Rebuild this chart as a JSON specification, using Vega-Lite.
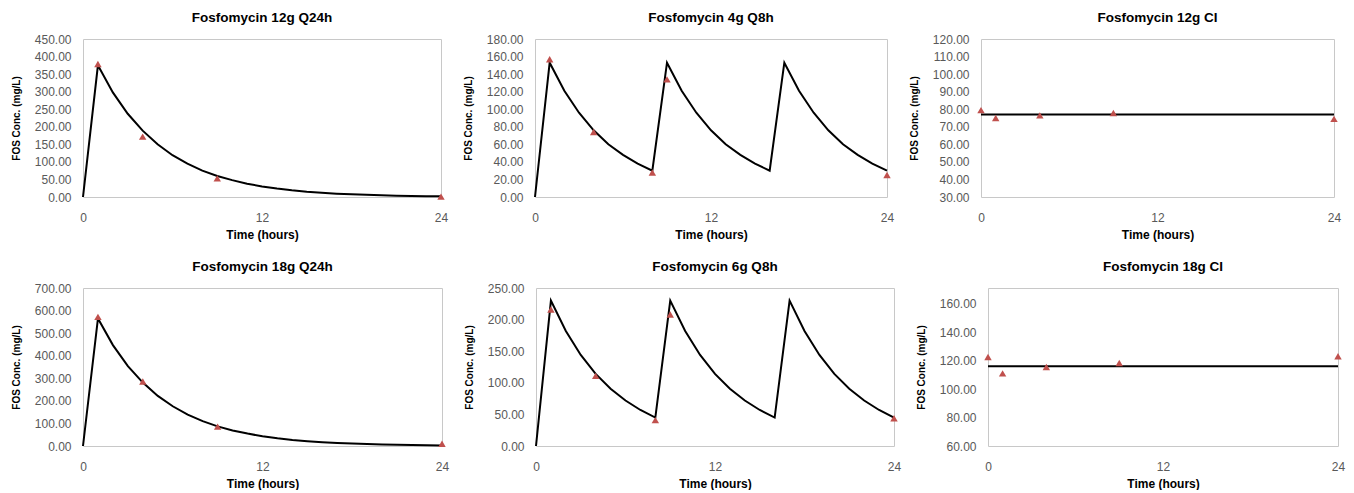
{
  "$schema": "https://vega.github.io/schema/vega-lite/v6.json",
  "padding": {"left": 10, "top": 10, "right": 0, "bottom": 0},
  "background": "white",
  "data": {"values": [
    {"panel": "p1", "type": "model", "t": 0, "conc": 0},
    {"panel": "p1", "type": "model", "t": 1, "conc": 375},
    {"panel": "p1", "type": "model", "t": 2, "conc": 298},
    {"panel": "p1", "type": "model", "t": 3, "conc": 237},
    {"panel": "p1", "type": "model", "t": 4, "conc": 189},
    {"panel": "p1", "type": "model", "t": 5, "conc": 150},
    {"panel": "p1", "type": "model", "t": 6, "conc": 119},
    {"panel": "p1", "type": "model", "t": 7, "conc": 95},
    {"panel": "p1", "type": "model", "t": 8, "conc": 75},
    {"panel": "p1", "type": "model", "t": 9, "conc": 60},
    {"panel": "p1", "type": "model", "t": 10, "conc": 48},
    {"panel": "p1", "type": "model", "t": 11, "conc": 38},
    {"panel": "p1", "type": "model", "t": 12, "conc": 30},
    {"panel": "p1", "type": "model", "t": 13, "conc": 24},
    {"panel": "p1", "type": "model", "t": 14, "conc": 19},
    {"panel": "p1", "type": "model", "t": 15, "conc": 15},
    {"panel": "p1", "type": "model", "t": 16, "conc": 12},
    {"panel": "p1", "type": "model", "t": 17, "conc": 9.6},
    {"panel": "p1", "type": "model", "t": 18, "conc": 7.6},
    {"panel": "p1", "type": "model", "t": 19, "conc": 6.1},
    {"panel": "p1", "type": "model", "t": 20, "conc": 4.8},
    {"panel": "p1", "type": "model", "t": 21, "conc": 3.8},
    {"panel": "p1", "type": "model", "t": 22, "conc": 3.1},
    {"panel": "p1", "type": "model", "t": 23, "conc": 2.4},
    {"panel": "p1", "type": "model", "t": 24, "conc": 1.9},
    {"panel": "p1", "type": "obs", "t": 1, "conc": 379},
    {"panel": "p1", "type": "obs", "t": 4, "conc": 172},
    {"panel": "p1", "type": "obs", "t": 9, "conc": 53},
    {"panel": "p1", "type": "obs", "t": 24, "conc": 1},

    {"panel": "p2", "type": "model", "t": 0, "conc": 0},
    {"panel": "p2", "type": "model", "t": 1, "conc": 153},
    {"panel": "p2", "type": "model", "t": 2, "conc": 121},
    {"panel": "p2", "type": "model", "t": 3, "conc": 96},
    {"panel": "p2", "type": "model", "t": 4, "conc": 76},
    {"panel": "p2", "type": "model", "t": 5, "conc": 60},
    {"panel": "p2", "type": "model", "t": 6, "conc": 48},
    {"panel": "p2", "type": "model", "t": 7, "conc": 38},
    {"panel": "p2", "type": "model", "t": 8, "conc": 30},
    {"panel": "p2", "type": "model", "t": 9, "conc": 153},
    {"panel": "p2", "type": "model", "t": 10, "conc": 121},
    {"panel": "p2", "type": "model", "t": 11, "conc": 96},
    {"panel": "p2", "type": "model", "t": 12, "conc": 76},
    {"panel": "p2", "type": "model", "t": 13, "conc": 60},
    {"panel": "p2", "type": "model", "t": 14, "conc": 48},
    {"panel": "p2", "type": "model", "t": 15, "conc": 38},
    {"panel": "p2", "type": "model", "t": 16, "conc": 30},
    {"panel": "p2", "type": "model", "t": 17, "conc": 153},
    {"panel": "p2", "type": "model", "t": 18, "conc": 121},
    {"panel": "p2", "type": "model", "t": 19, "conc": 96},
    {"panel": "p2", "type": "model", "t": 20, "conc": 76},
    {"panel": "p2", "type": "model", "t": 21, "conc": 60},
    {"panel": "p2", "type": "model", "t": 22, "conc": 48},
    {"panel": "p2", "type": "model", "t": 23, "conc": 38},
    {"panel": "p2", "type": "model", "t": 24, "conc": 30},
    {"panel": "p2", "type": "obs", "t": 1, "conc": 157},
    {"panel": "p2", "type": "obs", "t": 4, "conc": 74},
    {"panel": "p2", "type": "obs", "t": 8, "conc": 28},
    {"panel": "p2", "type": "obs", "t": 9, "conc": 134},
    {"panel": "p2", "type": "obs", "t": 24, "conc": 25},

    {"panel": "p3", "type": "model", "t": 0, "conc": 77},
    {"panel": "p3", "type": "model", "t": 24, "conc": 77},
    {"panel": "p3", "type": "obs", "t": 0, "conc": 79.5},
    {"panel": "p3", "type": "obs", "t": 1, "conc": 75},
    {"panel": "p3", "type": "obs", "t": 4, "conc": 76.5},
    {"panel": "p3", "type": "obs", "t": 9, "conc": 77.8},
    {"panel": "p3", "type": "obs", "t": 24, "conc": 74.5},

    {"panel": "p4", "type": "model", "t": 0, "conc": 0},
    {"panel": "p4", "type": "model", "t": 1, "conc": 565},
    {"panel": "p4", "type": "model", "t": 2, "conc": 447},
    {"panel": "p4", "type": "model", "t": 3, "conc": 354},
    {"panel": "p4", "type": "model", "t": 4, "conc": 281},
    {"panel": "p4", "type": "model", "t": 5, "conc": 222},
    {"panel": "p4", "type": "model", "t": 6, "conc": 176},
    {"panel": "p4", "type": "model", "t": 7, "conc": 139},
    {"panel": "p4", "type": "model", "t": 8, "conc": 110},
    {"panel": "p4", "type": "model", "t": 9, "conc": 87},
    {"panel": "p4", "type": "model", "t": 10, "conc": 69},
    {"panel": "p4", "type": "model", "t": 11, "conc": 55},
    {"panel": "p4", "type": "model", "t": 12, "conc": 43},
    {"panel": "p4", "type": "model", "t": 13, "conc": 34},
    {"panel": "p4", "type": "model", "t": 14, "conc": 27},
    {"panel": "p4", "type": "model", "t": 15, "conc": 21.5},
    {"panel": "p4", "type": "model", "t": 16, "conc": 17},
    {"panel": "p4", "type": "model", "t": 17, "conc": 13.5},
    {"panel": "p4", "type": "model", "t": 18, "conc": 10.7},
    {"panel": "p4", "type": "model", "t": 19, "conc": 8.5},
    {"panel": "p4", "type": "model", "t": 20, "conc": 6.7},
    {"panel": "p4", "type": "model", "t": 21, "conc": 5.3},
    {"panel": "p4", "type": "model", "t": 22, "conc": 4.2},
    {"panel": "p4", "type": "model", "t": 23, "conc": 3.3},
    {"panel": "p4", "type": "model", "t": 24, "conc": 2.6},
    {"panel": "p4", "type": "obs", "t": 1, "conc": 572},
    {"panel": "p4", "type": "obs", "t": 4, "conc": 286},
    {"panel": "p4", "type": "obs", "t": 9, "conc": 86},
    {"panel": "p4", "type": "obs", "t": 24, "conc": 10},

    {"panel": "p5", "type": "model", "t": 0, "conc": 0},
    {"panel": "p5", "type": "model", "t": 1, "conc": 230},
    {"panel": "p5", "type": "model", "t": 2, "conc": 182},
    {"panel": "p5", "type": "model", "t": 3, "conc": 144},
    {"panel": "p5", "type": "model", "t": 4, "conc": 114},
    {"panel": "p5", "type": "model", "t": 5, "conc": 90.5},
    {"panel": "p5", "type": "model", "t": 6, "conc": 72},
    {"panel": "p5", "type": "model", "t": 7, "conc": 57},
    {"panel": "p5", "type": "model", "t": 8, "conc": 45},
    {"panel": "p5", "type": "model", "t": 9, "conc": 230},
    {"panel": "p5", "type": "model", "t": 10, "conc": 182},
    {"panel": "p5", "type": "model", "t": 11, "conc": 144},
    {"panel": "p5", "type": "model", "t": 12, "conc": 114},
    {"panel": "p5", "type": "model", "t": 13, "conc": 90.5},
    {"panel": "p5", "type": "model", "t": 14, "conc": 72},
    {"panel": "p5", "type": "model", "t": 15, "conc": 57},
    {"panel": "p5", "type": "model", "t": 16, "conc": 45},
    {"panel": "p5", "type": "model", "t": 17, "conc": 230},
    {"panel": "p5", "type": "model", "t": 18, "conc": 182},
    {"panel": "p5", "type": "model", "t": 19, "conc": 144},
    {"panel": "p5", "type": "model", "t": 20, "conc": 114},
    {"panel": "p5", "type": "model", "t": 21, "conc": 90.5},
    {"panel": "p5", "type": "model", "t": 22, "conc": 72},
    {"panel": "p5", "type": "model", "t": 23, "conc": 57},
    {"panel": "p5", "type": "model", "t": 24, "conc": 45},
    {"panel": "p5", "type": "obs", "t": 1, "conc": 216},
    {"panel": "p5", "type": "obs", "t": 4, "conc": 111},
    {"panel": "p5", "type": "obs", "t": 8, "conc": 41},
    {"panel": "p5", "type": "obs", "t": 9, "conc": 208},
    {"panel": "p5", "type": "obs", "t": 24, "conc": 44},

    {"panel": "p6", "type": "model", "t": 0, "conc": 116},
    {"panel": "p6", "type": "model", "t": 24, "conc": 116},
    {"panel": "p6", "type": "obs", "t": 0, "conc": 122.5},
    {"panel": "p6", "type": "obs", "t": 1, "conc": 111},
    {"panel": "p6", "type": "obs", "t": 4, "conc": 115.5},
    {"panel": "p6", "type": "obs", "t": 9, "conc": 118.3},
    {"panel": "p6", "type": "obs", "t": 24, "conc": 123}
  ]},
  "spacing": 18,
  "resolve": {"scale": {"x": "independent", "y": "independent"}},
  "vconcat": [
    {
      "bounds": "flush",
      "spacing": 94,
      "resolve": {"scale": {"x": "independent", "y": "independent"}},
      "hconcat": [
        {
          "width": 358, "height": 158,
          "title": {"text": "Fosfomycin 12g Q24h"},
          "encoding": {
            "x": {"field": "t", "type": "quantitative", "scale": {"domain": [0, 24], "nice": false}, "axis": {"values": [0, 12, 24], "title": "Time (hours)"}},
            "y": {"field": "conc", "type": "quantitative", "scale": {"domain": [0, 450], "nice": false, "zero": false}, "axis": {"values": [0, 50, 100, 150, 200, 250, 300, 350, 400, 450], "format": ".2f", "title": "FOS Conc. (mg/L)"}}
          },
          "layer": [
            {"transform": [{"filter": "datum.panel == 'p1' && datum.type == 'model'"}], "mark": {"type": "line", "color": "#000000", "strokeWidth": 2}},
            {"transform": [{"filter": "datum.panel == 'p1' && datum.type == 'obs'"}], "mark": {"type": "point", "shape": "triangle-up", "filled": true, "color": "#C0504D", "opacity": 1, "size": 55}}
          ]
        },
        {
          "width": 352, "height": 158,
          "title": {"text": "Fosfomycin 4g Q8h"},
          "encoding": {
            "x": {"field": "t", "type": "quantitative", "scale": {"domain": [0, 24], "nice": false}, "axis": {"values": [0, 12, 24], "title": "Time (hours)"}},
            "y": {"field": "conc", "type": "quantitative", "scale": {"domain": [0, 180], "nice": false, "zero": false}, "axis": {"values": [0, 20, 40, 60, 80, 100, 120, 140, 160, 180], "format": ".2f", "title": "FOS Conc. (mg/L)"}}
          },
          "layer": [
            {"transform": [{"filter": "datum.panel == 'p2' && datum.type == 'model'"}], "mark": {"type": "line", "color": "#000000", "strokeWidth": 2}},
            {"transform": [{"filter": "datum.panel == 'p2' && datum.type == 'obs'"}], "mark": {"type": "point", "shape": "triangle-up", "filled": true, "color": "#C0504D", "opacity": 1, "size": 55}}
          ]
        },
        {
          "width": 353, "height": 158,
          "title": {"text": "Fosfomycin 12g CI"},
          "encoding": {
            "x": {"field": "t", "type": "quantitative", "scale": {"domain": [0, 24], "nice": false}, "axis": {"values": [0, 12, 24], "title": "Time (hours)"}},
            "y": {"field": "conc", "type": "quantitative", "scale": {"domain": [30, 120], "nice": false, "zero": false}, "axis": {"values": [30, 40, 50, 60, 70, 80, 90, 100, 110, 120], "format": ".2f", "title": "FOS Conc. (mg/L)"}}
          },
          "layer": [
            {"transform": [{"filter": "datum.panel == 'p3' && datum.type == 'model'"}], "mark": {"type": "line", "color": "#000000", "strokeWidth": 2}},
            {"transform": [{"filter": "datum.panel == 'p3' && datum.type == 'obs'"}], "mark": {"type": "point", "shape": "triangle-up", "filled": true, "color": "#C0504D", "opacity": 1, "size": 55}}
          ]
        }
      ]
    },
    {
      "bounds": "flush",
      "spacing": 94,
      "resolve": {"scale": {"x": "independent", "y": "independent"}},
      "hconcat": [
        {
          "width": 359, "height": 158,
          "title": {"text": "Fosfomycin 18g Q24h"},
          "encoding": {
            "x": {"field": "t", "type": "quantitative", "scale": {"domain": [0, 24], "nice": false}, "axis": {"values": [0, 12, 24], "title": "Time (hours)"}},
            "y": {"field": "conc", "type": "quantitative", "scale": {"domain": [0, 700], "nice": false, "zero": false}, "axis": {"values": [0, 100, 200, 300, 400, 500, 600, 700], "format": ".2f", "title": "FOS Conc. (mg/L)"}}
          },
          "layer": [
            {"transform": [{"filter": "datum.panel == 'p4' && datum.type == 'model'"}], "mark": {"type": "line", "color": "#000000", "strokeWidth": 2}},
            {"transform": [{"filter": "datum.panel == 'p4' && datum.type == 'obs'"}], "mark": {"type": "point", "shape": "triangle-up", "filled": true, "color": "#C0504D", "opacity": 1, "size": 55}}
          ]
        },
        {
          "width": 358, "height": 158,
          "title": {"text": "Fosfomycin 6g Q8h"},
          "encoding": {
            "x": {"field": "t", "type": "quantitative", "scale": {"domain": [0, 24], "nice": false}, "axis": {"values": [0, 12, 24], "title": "Time (hours)"}},
            "y": {"field": "conc", "type": "quantitative", "scale": {"domain": [0, 250], "nice": false, "zero": false}, "axis": {"values": [0, 50, 100, 150, 200, 250], "format": ".2f", "title": "FOS Conc. (mg/L)"}}
          },
          "layer": [
            {"transform": [{"filter": "datum.panel == 'p5' && datum.type == 'model'"}], "mark": {"type": "line", "color": "#000000", "strokeWidth": 2}},
            {"transform": [{"filter": "datum.panel == 'p5' && datum.type == 'obs'"}], "mark": {"type": "point", "shape": "triangle-up", "filled": true, "color": "#C0504D", "opacity": 1, "size": 55}}
          ]
        },
        {
          "width": 350, "height": 158,
          "title": {"text": "Fosfomycin 18g CI", "offset": 15},
          "encoding": {
            "x": {"field": "t", "type": "quantitative", "scale": {"domain": [0, 24], "nice": false}, "axis": {"values": [0, 12, 24], "title": "Time (hours)"}},
            "y": {"field": "conc", "type": "quantitative", "scale": {"domain": [60, 171], "nice": false, "zero": false}, "axis": {"values": [60, 80, 100, 120, 140, 160], "format": ".2f", "title": "FOS Conc. (mg/L)"}}
          },
          "layer": [
            {"transform": [{"filter": "datum.panel == 'p6' && datum.type == 'model'"}], "mark": {"type": "line", "color": "#000000", "strokeWidth": 2}},
            {"transform": [{"filter": "datum.panel == 'p6' && datum.type == 'obs'"}], "mark": {"type": "point", "shape": "triangle-up", "filled": true, "color": "#C0504D", "opacity": 1, "size": 55}}
          ]
        }
      ]
    }
  ],
  "config": {
    "view": {"stroke": "#c8c8c8", "strokeWidth": 1},
    "axis": {"domain": false, "ticks": false, "grid": false, "labelFont": "Liberation Sans", "labelFontSize": 12, "labelColor": "#595959", "titleFont": "Liberation Sans", "titleFontWeight": "bold", "titleColor": "#000000"},
    "axisX": {"labelPadding": 15, "titleFontSize": 12, "titlePadding": 6, "labelFlush": false},
    "axisY": {"labelPadding": 12, "minExtent": 50, "maxExtent": 50, "titlePadding": 12, "titleFontSize": 10},
    "title": {"font": "Liberation Sans", "fontSize": 13.5, "fontWeight": "bold", "color": "#000000", "frame": "group", "anchor": "middle", "baseline": "alphabetic", "offset": 9}
  }
}
